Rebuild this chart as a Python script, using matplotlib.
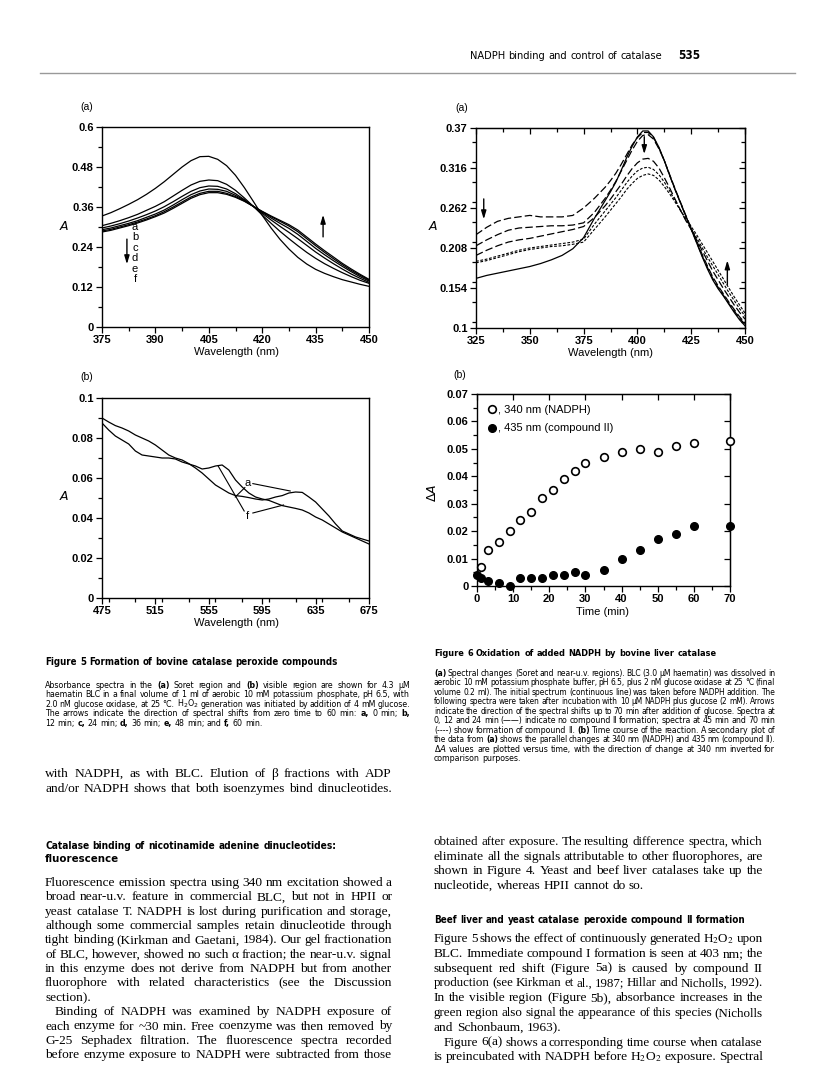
import os
import numpy as np
import matplotlib
matplotlib.use("Agg")
import matplotlib.pyplot as plt
from matplotlib import font_manager
from matplotlib.font_manager import FontProperties
from matplotlib.ticker import MultipleLocator

# ------------------------------------------------------------------ data
# Figure 5(a): Soret region spectra, curves a..f (0..60 min)
wl5a = np.arange(375, 450.1, 2.5)
f5a_a = [.333, .343, .355, .368, .382, .398, .416, .436, .458, .480, .499, .511, .512, .503, .484, .455,
         .418, .377, .335, .297, .263, .234, .209, .189, .173, .161, .151, .142, .135, .128, .122]
f5a_b = [.304, .311, .319, .328, .338, .350, .362, .376, .393, .410, .426, .437, .441, .439, .428, .410,
         .387, .362, .336, .311, .287, .265, .244, .224, .206, .190, .176, .163, .151, .140, .131]
f5a_c = [.297, .303, .310, .318, .327, .337, .348, .361, .376, .392, .407, .418, .423, .422, .414, .400,
         .382, .362, .341, .321, .302, .284, .265, .245, .225, .207, .190, .174, .159, .146, .134]
f5a_d = [.292, .297, .304, .311, .319, .329, .339, .351, .366, .382, .397, .408, .414, .413, .407, .395,
         .380, .362, .344, .327, .311, .296, .278, .257, .236, .217, .199, .182, .166, .151, .138]
f5a_e = [.288, .293, .300, .307, .315, .324, .334, .346, .360, .375, .390, .401, .407, .407, .401, .391,
         .378, .362, .346, .331, .317, .303, .286, .265, .244, .224, .205, .187, .170, .155, .141]
f5a_f = [.285, .290, .297, .304, .312, .321, .331, .342, .356, .371, .386, .397, .403, .403, .398, .389,
         .377, .362, .347, .333, .320, .307, .291, .270, .249, .229, .210, .191, .174, .158, .143]
labels5a = ["a", "b", "c", "d", "e", "f"]

# Figure 5(b): visible region spectra, curves a and f
wl5b = np.arange(475, 675.1, 5)
f5b_a = [.0900, .0880, .0862, .0850, .0835, .0815, .0800, .0785, .0765, .0740, .0715, .0700, .0690, .0672,
         .0650, .0625, .0595, .0565, .0545, .0525, .0512, .0508, .0502, .0495, .0490, .0495, .0505, .0512,
         .0525, .0530, .0528, .0505, .0480, .0445, .0410, .0370, .0335, .0320, .0305, .0295, .0285]
f5b_f = [.0875, .0840, .0810, .0790, .0770, .0735, .0715, .0710, .0705, .0700, .0700, .0695, .0680, .0670,
         .0660, .0645, .0650, .0660, .0665, .0640, .0590, .0555, .0525, .0505, .0495, .0488, .0475, .0462,
         .0455, .0448, .0440, .0425, .0405, .0390, .0370, .0350, .0330, .0315, .0300, .0285, .0270]

# Figure 6(a): Soret / near-u.v. spectra
wl6a = np.concatenate([np.arange(325, 385.1, 5), np.arange(387.5, 450.1, 2.5)])
f6a_initial = [.167, .171, .174, .177, .180, .183, .187, .192, .198, .207, .222, .248, .272,
               .284, .297, .313, .330, .345, .358, .366, .366, .358, .344, .326, .306, .287, .269, .251,
               .233, .215, .197, .180, .165, .153, .143, .132, .121, .111, .103]
f6a_0min = [.226, .236, .244, .248, .250, .252, .250, .250, .250, .252, .262, .275, .290,
            .299, .309, .321, .334, .347, .357, .364, .364, .357, .343, .326, .306, .287, .269, .251,
            .234, .216, .198, .182, .167, .155, .144, .133, .123, .113, .105]
f6a_12min = [.211, .219, .226, .232, .235, .236, .237, .238, .238, .239, .242, .256, .275,
             .286, .298, .312, .326, .340, .352, .360, .361, .355, .342, .326, .307, .288, .270, .252,
             .235, .218, .200, .184, .169, .157, .146, .135, .125, .115, .107]
f6a_24min = [.198, .205, .211, .216, .219, .221, .224, .227, .230, .233, .237, .249, .265,
             .274, .284, .294, .305, .315, .323, .328, .329, .325, .316, .303, .289, .274, .259, .245,
             .233, .219, .205, .191, .177, .165, .153, .142, .131, .121, .112]
f6a_45min = [.190, .193, .197, .201, .205, .208, .210, .212, .214, .216, .220, .240, .258,
             .267, .276, .286, .296, .305, .312, .316, .317, .314, .307, .297, .285, .272, .259, .246,
             .234, .222, .209, .196, .184, .172, .160, .148, .137, .126, .116]
f6a_70min = [.188, .191, .195, .199, .203, .206, .208, .210, .211, .213, .216, .233, .250,
             .259, .268, .277, .287, .295, .302, .306, .308, .306, .300, .291, .281, .270, .259, .248,
             .237, .226, .214, .202, .190, .178, .166, .154, .142, .131, .120]

# Figure 6(b): time course
t340 = [1, 3, 6, 9, 12, 15, 18, 21, 24, 27, 30, 35, 40, 45, 50, 55, 60, 70]
dA340 = [.007, .013, .016, .020, .024, .027, .032, .035, .039, .042, .045, .047, .049, .050, .049,
         .051, .052, .053]
t435 = [0, 1, 3, 6, 9, 12, 15, 18, 21, 24, 27, 30, 35, 40, 45, 50, 55, 60, 70]
dA435 = [.004, .003, .002, .001, .000, .003, .003, .003, .004, .004, .005, .004, .006, .010, .013,
         .017, .019, .022, .022]
legend6b = [", 340 nm (NADPH)", ", 435 nm (compound II)"]

# tick labels
xt5a = [375, 390, 405, 420, 435, 450]
yt5a = ["0", "0.12", "0.24", "0.36", "0.48", "0.6"]
xt5b = [475, 515, 555, 595, 635, 675]
yt5b = ["0", "0.02", "0.04", "0.06", "0.08", "0.1"]
xt6a = [325, 350, 375, 400, 425, 450]
yt6a = ["0.1", "0.154", "0.208", "0.262", "0.316", "0.37"]
xt6b = [0, 10, 20, 30, 40, 50, 60, 70]
yt6b = ["0", "0.01", "0.02", "0.03", "0.04", "0.05", "0.06", "0.07"]

# ------------------------------------------------------------------ fonts
def has_font(name):
    try:
        font_manager.findfont(FontProperties(family=name), fallback_to_default=False)
        return True
    except Exception:
        return False


def find_file(names):
    files = {os.path.basename(f.fname).lower(): f.fname for f in font_manager.fontManager.ttflist}
    for n in names:
        if n.lower() in files:
            return files[n.lower()]
    return None


SANS = "Liberation Sans" if has_font("Liberation Sans") else "DejaVu Sans"
SERIF = "Liberation Serif" if has_font("Liberation Serif") else "DejaVu Serif"
NARROW_REG = find_file(["LiberationSansNarrow-Regular.ttf", "DejaVuSansCondensed.ttf",
                        "RobotoCondensed-Regular.ttf", "Roboto_Condensed-Regular.ttf"])
NARROW_BOLD = find_file(["LiberationSansNarrow-Bold.ttf", "DejaVuSansCondensed-Bold.ttf",
                         "RobotoCondensed-Bold.ttf", "Roboto_Condensed-Bold.ttf"])
plt.rcParams["font.family"] = [SANS, "DejaVu Sans"]


def make_fp(kind, weight, size):
    if kind == "narrow":
        if weight == "bold" and NARROW_BOLD:
            return FontProperties(fname=NARROW_BOLD, size=size)
        if weight != "bold" and NARROW_REG:
            return FontProperties(fname=NARROW_REG, size=size)
        return FontProperties(family=SANS, weight=weight, size=size)
    if kind == "serif":
        return FontProperties(family=SERIF, weight=weight, size=size)
    return FontProperties(family=SANS, weight=weight, size=size)


W, H = 816, 1089
fig = plt.figure(figsize=(W / 100, H / 100), dpi=100)
fig.patch.set_facecolor("white")
renderer = fig.canvas.get_renderer()


def fx(x):
    return x / W


def fy(y):
    return 1 - y / H


def add_axes_px(l, t, r, b):
    return fig.add_axes([l / W, 1 - b / H, (r - l) / W, (b - t) / H])


def measure(s, fp, mathfam="dejavusans"):
    t = fig.text(0, 0, s, fontproperties=fp, math_fontfamily=mathfam)
    w = t.get_window_extent(renderer=renderer).width
    t.remove()
    return w


def parse(s, weight):
    out = []
    for tk in s.split():
        if tk.startswith("§"):
            out.append((tk[1:], "bold"))
        else:
            out.append((tk, weight))
    return out


SPACE_MIN = 0.75


def put_line(s, x0, x1, y, size, kind, weight="normal", justify=True, mathfam="dejavusans", indent=0):
    """Place one line of text word by word, shrinking only if it cannot fit, justified if asked."""
    parsed = parse(s, weight)
    x0 = x0 + indent
    widths = [measure(t, make_fp(kind, w, size), mathfam) for t, w in parsed]
    fp = make_fp(kind, weight, size)
    space = measure("a a", fp) - measure("aa", fp)
    natural = sum(widths) + space * SPACE_MIN * (len(parsed) - 1)
    target = x1 - x0
    if natural > target:
        f = target / natural
        size *= f
        widths = [w * f for w in widths]
        space *= f
    if justify and len(parsed) > 1:
        gap = (target - sum(widths)) / (len(parsed) - 1)
    else:
        gap = space
    x = x0
    for (t, w), wd in zip(parsed, widths):
        fig.text(fx(x), fy(y), t, fontproperties=make_fp(kind, w, size), va="baseline", ha="left",
                 math_fontfamily=mathfam)
        x += wd + gap


def style_axes(ax):
    for s in ax.spines.values():
        s.set_linewidth(1.0)
    ax.tick_params(which="both", direction="out", width=0.9, colors="k", labelsize=8, pad=2)
    ax.tick_params(which="major", length=4)
    ax.tick_params(which="minor", length=3)
    for lab in ax.get_xticklabels() + ax.get_yticklabels():
        lab.set_fontweight("bold")
        lab.set_family(SANS)


def inner_ticks(ax, xmaj, xminor, ymaj, yminor):
    a2 = ax.secondary_xaxis("top")
    a2.set_xticks(xmaj)
    if xminor:
        a2.xaxis.set_minor_locator(MultipleLocator(xminor))
    a2.tick_params(which="both", direction="in", labeltop=False, width=0.9)
    a2.tick_params(which="major", length=4)
    a2.tick_params(which="minor", length=3)
    a3 = ax.secondary_yaxis("right")
    a3.set_yticks(ymaj)
    if yminor:
        a3.yaxis.set_minor_locator(MultipleLocator(yminor))
    a3.tick_params(which="both", direction="in", labelright=False, width=0.9)
    a3.tick_params(which="major", length=4)
    a3.tick_params(which="minor", length=3)


arrow_kw = dict(arrowstyle="-|>,head_width=0.15,head_length=0.5", lw=1, color="k")

# ------------------------------------------------------------------ Figure 5(a)
ax = add_axes_px(102, 127, 369, 327)
for vals in [f5a_a, f5a_b, f5a_c, f5a_d, f5a_e, f5a_f]:
    ax.plot(wl5a, vals, color="k", lw=0.9)
ax.set_xlim(375, 450)
ax.set_ylim(0, 0.6)
ax.set_xticks(xt5a)
ax.xaxis.set_minor_locator(MultipleLocator(7.5))
ax.set_yticks([float(v) for v in yt5a])
ax.set_yticklabels(yt5a)
ax.yaxis.set_minor_locator(MultipleLocator(0.06))
style_axes(ax)
for i, lab in enumerate(labels5a):
    ax.text(384.3, 0.300 - i * 0.0312, lab, fontsize=8, ha="center", va="center")
ax.annotate("", xy=(382, 0.18), xytext=(382, 0.272), arrowprops=arrow_kw)
ax.annotate("", xy=(437.1, 0.345), xytext=(437.1, 0.262), arrowprops=arrow_kw)
fig.text(fx(87), fy(107), "(a)", fontsize=7.5, ha="center", va="center")
fig.text(fx(64), fy(227), "$A$", fontsize=9, ha="center", va="center", math_fontfamily="dejavusans")
fig.text(fx(236), fy(352), "Wavelength (nm)", fontsize=8, ha="center", va="center")

# ------------------------------------------------------------------ Figure 5(b)
ax = add_axes_px(102, 398, 369, 598)
ax.plot(wl5b, f5b_a, color="k", lw=0.9)
ax.plot(wl5b, f5b_f, color="k", lw=0.9)
ax.set_xlim(475, 675)
ax.set_ylim(0, 0.1)
ax.set_xticks(xt5b)
ax.xaxis.set_minor_locator(MultipleLocator(20))
ax.set_yticks([float(v) for v in yt5b])
ax.set_yticklabels(yt5b)
ax.yaxis.set_minor_locator(MultipleLocator(0.01))
style_axes(ax)
ax.text(583.8, 0.0575, "a", fontsize=8, ha="center", va="center")
ax.text(583.8, 0.0412, "f", fontsize=8, ha="center", va="center")
ax.plot([582, 574.8], [0.0552, 0.0505], color="k", lw=0.8)
ax.plot([588, 616], [0.0572, 0.0535], color="k", lw=0.8)
ax.plot([581.5, 562], [0.0435, 0.066], color="k", lw=0.8)
ax.plot([588, 611], [0.0425, 0.0465], color="k", lw=0.8)
fig.text(fx(87), fy(377), "(b)", fontsize=7.5, ha="center", va="center")
fig.text(fx(64), fy(497), "$A$", fontsize=9, ha="center", va="center", math_fontfamily="dejavusans")
fig.text(fx(236), fy(623), "Wavelength (nm)", fontsize=8, ha="center", va="center")

# ------------------------------------------------------------------ Figure 6(a)
ax = add_axes_px(476, 128, 745, 328)
ax.plot(wl6a, f6a_initial, color="k", lw=0.9)
for vals in [f6a_0min, f6a_12min, f6a_24min]:
    ax.plot(wl6a, vals, color="k", lw=0.9, dashes=(6, 2.5))
for vals in [f6a_45min, f6a_70min]:
    ax.plot(wl6a, vals, color="k", lw=0.8, dashes=(2.5, 1.5))
ax.set_xlim(325, 450)
ax.set_ylim(0.1, 0.37)
ax.set_xticks(xt6a)
ax.xaxis.set_minor_locator(MultipleLocator(12.5))
ax.set_yticks([float(v) for v in yt6a])
ax.set_yticklabels(yt6a)
ax.yaxis.set_minor_locator(MultipleLocator(0.027))
style_axes(ax)
inner_ticks(ax, xt6a, 12.5, [float(v) for v in yt6a], 0.027)
ax.annotate("", xy=(328.6, 0.243), xytext=(328.6, 0.278), arrowprops=arrow_kw)
ax.annotate("", xy=(403.2, 0.331), xytext=(403.2, 0.362), arrowprops=arrow_kw)
ax.annotate("", xy=(441.8, 0.195), xytext=(441.8, 0.155), arrowprops=arrow_kw)
fig.text(fx(462), fy(108), "(a)", fontsize=7.5, ha="center", va="center")
fig.text(fx(433), fy(227), "$A$", fontsize=9, ha="center", va="center", math_fontfamily="dejavusans")
fig.text(fx(610), fy(353), "Wavelength (nm)", fontsize=8, ha="center", va="center")

# ------------------------------------------------------------------ Figure 6(b)
ax = add_axes_px(477, 394, 730, 586)
h1, = ax.plot(t340, dA340, "o", ms=5.5, mfc="white", mec="k", mew=1.2, clip_on=False, zorder=3)
h2, = ax.plot(t435, dA435, "o", ms=5.5, mfc="k", mec="k", clip_on=False, zorder=3)
ax.set_xlim(0, 70)
ax.set_ylim(0, 0.07)
ax.set_xticks(xt6b)
ax.xaxis.set_minor_locator(MultipleLocator(5))
ax.set_yticks([float(v) for v in yt6b])
ax.set_yticklabels(yt6b)
ax.yaxis.set_minor_locator(MultipleLocator(0.005))
style_axes(ax)
inner_ticks(ax, xt6b, None, [float(v) for v in yt6b], None)
ax.legend([h1, h2], legend6b, loc="upper left", bbox_to_anchor=(0.0, 1.0), frameon=False,
          handlelength=0.7, handletextpad=0.15, labelspacing=0.75, fontsize=8, numpoints=1,
          borderaxespad=0.6)
fig.text(fx(460), fy(375), "(b)", fontsize=7.5, ha="center", va="center")
fig.text(fx(433), fy(493), r"$\Delta A$", fontsize=9, ha="center", va="center", rotation=90,
         math_fontfamily="dejavusans")
fig.text(fx(603), fy(612), "Time (min)", fontsize=8, ha="center", va="center")

# ------------------------------------------------------------------ page header
put_line("NADPH binding and control of catalase", 470, 658, 59, 8.0, "narrow", justify=False)
fig.text(fx(700), fy(59), "535", fontproperties=make_fp("narrow", "bold", 8.5), ha="right",
         va="baseline")
fig.add_artist(plt.Line2D([fx(40), fx(795)], [fy(73), fy(73)], color="#999999", lw=1.0))

# ------------------------------------------------------------------ captions
cap5 = [
    "Absorbance spectra in the §(a) Soret region and §(b) visible region are shown for 4.3 μM",
    "haematin BLC in a final volume of 1 ml of aerobic 10 mM potassium phosphate, pH 6.5, with",
    "2.0 nM glucose oxidase, at 25 °C. H$_2$O$_2$ generation was initiated by addition of 4 mM glucose.",
    "The arrows indicate the direction of spectral shifts from zero time to 60 min: §a, 0 min; §b,",
    "12 min; §c, 24 min; §d, 36 min; §e, 48 min; and §f, 60 min.",
]
cap6 = [
    "§(a) Spectral changes (Soret and near-u.v. regions). BLC (3.0 μM haematin) was dissolved in",
    "aerobic 10 mM potassium phosphate buffer, pH 6.5, plus 2 nM glucose oxidase at 25 °C (final",
    "volume 0.2 ml). The initial spectrum (continuous line) was taken before NADPH addition. The",
    "following spectra were taken after incubation with 10 μM NADPH plus glucose (2 mM). Arrows",
    "indicate the direction of the spectral shifts up to 70 min after addition of glucose. Spectra at",
    "0, 12 and 24 min (——) indicate no compound II formation; spectra at 45 min and 70 min",
    "(----) show formation of compound II. §(b) Time course of the reaction. A secondary plot of",
    "the data from §(a) shows the parallel changes at 340 nm (NADPH) and 435 nm (compound II).",
    "Δ$A$ values are plotted versus time, with the direction of change at 340 nm inverted for",
    "comparison purposes.",
]
CAP = 6.3

put_line("Figure 5   Formation of bovine catalase peroxide compounds", 45, 333, 665, 7.8, "narrow",
         weight="bold", justify=False)
for i, s in enumerate(cap5):
    put_line(s, 45, 410, 688 + i * 9.45, CAP, "narrow", justify=(i < len(cap5) - 1))

put_line("Figure 6   Oxidation of added NADPH by bovine liver catalase", 434, 710, 656, 7.8, "narrow",
         weight="bold", justify=False)
for i, s in enumerate(cap6):
    put_line(s, 434, 775, 676 + i * 9.45, CAP, "narrow", justify=(i < len(cap6) - 1))

# ------------------------------------------------------------------ body text
L0, L1 = 45, 392
R0, R1 = 434, 763
left_top = [
    ("with NADPH, as with BLC. Elution of β fractions with ADP", True, 0),
    ("and/or NADPH shows that both isoenzymes bind dinucleotides.", True, 0),
]
left_body = [
    ("Fluorescence emission spectra using 340 nm excitation showed a", True, 0),
    ("broad near-u.v. feature in commercial BLC, but not in HPII or", True, 0),
    ("yeast catalase T. NADPH is lost during purification and storage,", True, 0),
    ("although some commercial samples retain dinucleotide through", True, 0),
    ("tight binding (Kirkman and Gaetani, 1984). Our gel fractionation", True, 0),
    ("of BLC, however, showed no such α fraction; the near-u.v. signal", True, 0),
    ("in this enzyme does not derive from NADPH but from another", True, 0),
    ("fluorophore with related characteristics (see the Discussion", True, 0),
    ("section).", False, 0),
    ("Binding of NADPH was examined by NADPH exposure of", True, 10),
    ("each enzyme for ~30 min. Free coenzyme was then removed by", True, 0),
    ("G-25 Sephadex filtration. The fluorescence spectra recorded", True, 0),
    ("before enzyme exposure to NADPH were subtracted from those", True, 0),
]
right_top = [
    ("obtained after exposure. The resulting difference spectra, which", True, 0),
    ("eliminate all the signals attributable to other fluorophores, are", True, 0),
    ("shown in Figure 4. Yeast and beef liver catalases take up the", True, 0),
    ("nucleotide, whereas HPII cannot do so.", False, 0),
]
right_body = [
    ("Figure 5 shows the effect of continuously generated H$_2$O$_2$ upon", True, 0),
    ("BLC. Immediate compound I formation is seen at 403 nm; the", True, 0),
    ("subsequent red shift (Figure 5a) is caused by compound II", True, 0),
    ("production (see Kirkman et al., 1987; Hillar and Nicholls, 1992).", True, 0),
    ("In the visible region (Figure 5b), absorbance increases in the", True, 0),
    ("green region also signal the appearance of this species (Nicholls", True, 0),
    ("and Schonbaum, 1963).", False, 0),
    ("Figure 6(a) shows a corresponding time course when catalase", True, 10),
    ("is preincubated with NADPH before H$_2$O$_2$ exposure. Spectral", True, 0),
]
BODY = 9.6

for i, (s, j, ind) in enumerate(left_top):
    put_line(s, L0, L1, 777 + i * 15, BODY, "serif", justify=j, indent=ind, mathfam="stix")
put_line("Catalase binding of nicotinamide adenine dinucleotides:", L0, 333, 849, 8.2, "narrow",
         weight="bold", justify=False)
put_line("fluorescence", L0, 333, 862, 8.2, "narrow", weight="bold", justify=False)
for i, (s, j, ind) in enumerate(left_body):
    put_line(s, L0, L1, 886 + i * 14.35, BODY, "serif", justify=j, indent=ind, mathfam="stix")
for i, (s, j, ind) in enumerate(right_top):
    put_line(s, R0, R1, 845 + i * 14.6, BODY, "serif", justify=j, indent=ind, mathfam="stix")
put_line("Beef liver and yeast catalase peroxide compound II formation", R0, 740, 923, 8.2, "narrow",
         weight="bold", justify=False)
for i, (s, j, ind) in enumerate(right_body):
    put_line(s, R0, R1, 942 + i * 14.8, BODY, "serif", justify=j, indent=ind, mathfam="stix")

fig.savefig("out.png", dpi=100, facecolor="white")
